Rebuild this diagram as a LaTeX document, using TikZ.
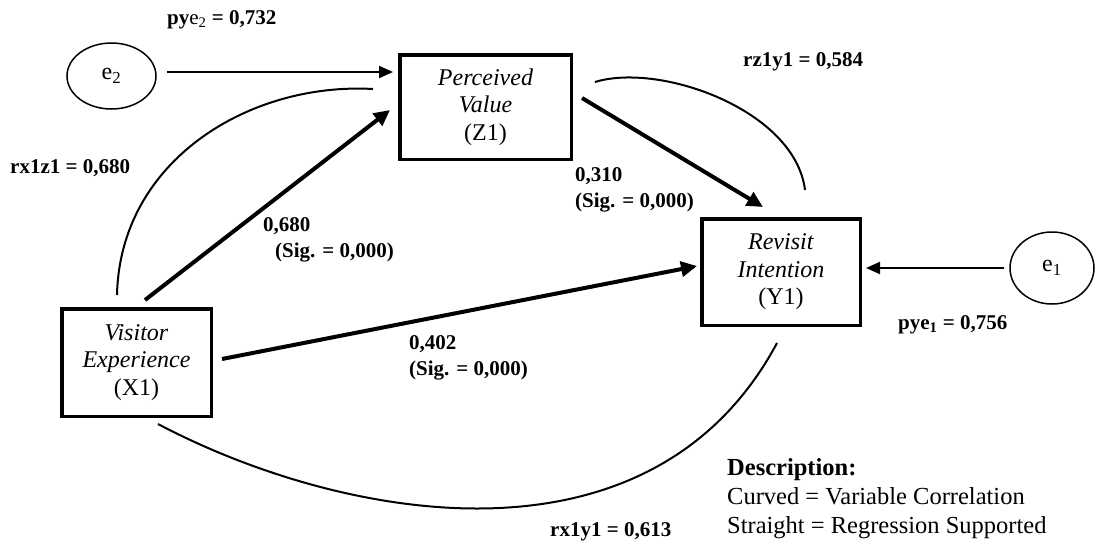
\documentclass[tikz,border=0pt]{standalone}
\usepackage{fontspec}
\setmainfont{Liberation Serif}
\usetikzlibrary{arrows.meta,calc,shapes.geometric}
\begin{document}
\begin{tikzpicture}[x=1pt,y=-1pt,
  varbox/.style={draw,line width=3.5pt,inner sep=0pt,align=center,
    font=\fontsize{24}{27.5}\selectfont},
  errnode/.style={draw,ellipse,line width=1.5pt,inner sep=0pt,
    font=\fontsize{24}{28}\selectfont},
  reg/.style={line width=4pt,-{Triangle[length=16pt,width=15pt]}},
  thinarrow/.style={line width=2pt,-{Triangle[length=14pt,width=12pt]}},
  corr/.style={line width=2pt},
  lab/.style={font=\bfseries\fontsize{21}{26}\selectfont,inner sep=0pt,anchor=west,align=left},
  desc/.style={font=\fontsize{24.5}{29}\selectfont,inner sep=0pt,anchor=west,align=left}
]
\useasboundingbox (0,0) rectangle (1095,542);

% boxes
\node[varbox,minimum width=171.5pt,minimum height=104.5pt] (Z1) at (485.5,107)
  {\textit{Perceived}\\\textit{Value}\\(Z1)};
\node[varbox,minimum width=158.5pt,minimum height=106.5pt] (Y1) at (781,272)
  {\textit{Revisit}\\\textit{Intention}\\(Y1)};
\node[varbox,minimum width=149.5pt,minimum height=107.5pt] (X1) at (136.5,362.5)
  {\textit{Visitor}\\\textit{Experience}\\(X1)};

% error terms
\node[errnode,minimum width=89pt,minimum height=66pt] (e2) at (111.5,76) {e\textsubscript{2}};
\node[errnode,minimum width=84pt,minimum height=72pt] (e1) at (1052,268) {e\textsubscript{1}};

% error arrows
\draw[thinarrow] ($(e2.east)+(10,-4)$) -- ($(Z1.west)+(-5,-35)$);
\draw[thinarrow] ($(e1.west)+(-5,0)$) -- ($(Y1.east)+(4,-4)$);

% regression arrows
\draw[reg] ($(X1.north)+(8.5,-7)$) -- ($(Z1.west)+(-8,3)$);
\draw[reg] ($(Z1.east)+(9,-9)$) -- ($(Y1.north)+(-18,-10)$);
\draw[reg] ($(X1.east)+(9,-3.5)$) -- ($(Y1.west)+(-3,-6)$);

% correlation curves
\draw[corr] ($(X1.north)+(-19.5,-12)$) .. controls (120,160) and (250,82) .. ($(Z1.west)+(-25,-18)$);
\draw[corr] ($(Z1.east)+(22,-25)$) .. controls (660,62) and (795,110) .. ($(Y1.north)+(24,-27)$);
\draw[corr] ($(X1.south)+(21.5,6)$) .. controls (340,520) and (650,580) .. ($(Y1.south)+(-4,16)$);

% labels
\node[lab] (lpye2) at (167,20) {py\textmd{e\textsubscript{2}} = 0,732};
\node[lab] (lrxz) at (10,168) {rx1z1 = 0,680};
\node[lab] (lrzy) at (743,62) {rz1y1 = 0,584};
\node[lab] (l310) at (575,190) {0,310\\(Sig. = 0,000)};
\node[lab] (l680) at (263,240) {0,680\\\hspace*{12pt}(Sig. = 0,000)};
\node[lab] (l402) at (409,358) {0,402\\(Sig. = 0,000)};
\node[lab] (lpye1) at (898,325) {pye\textsubscript{1} = 0,756};
\node[lab] (lrxy) at (550,532) {rx1y1 = 0,613};

% description
\node[desc] (descr) at (727,499) {\textbf{Description:}\\Curved = Variable Correlation\\Straight = Regression Supported};
\end{tikzpicture}
\end{document}
